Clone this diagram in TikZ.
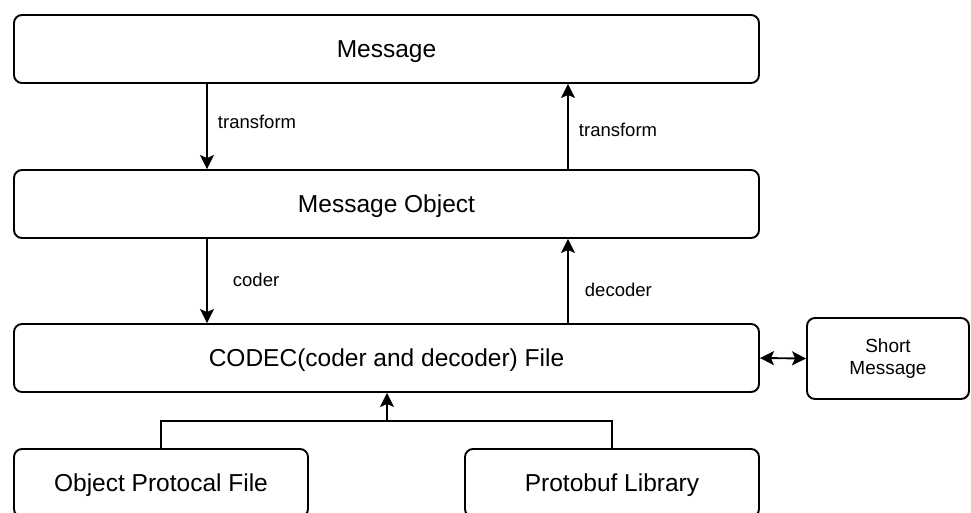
\documentclass[tikz,border=0pt]{standalone}
\usepackage{fontspec}
\setmainfont{Liberation Sans}
\usetikzlibrary{arrows.meta, positioning, calc}

\begin{document}
\begin{tikzpicture}[x=1pt, y=-1pt,
    block/.style={draw, line width=1.9pt, rounded corners=8pt, inner sep=0pt,
                  font=\fontsize{24.5}{28}\selectfont},
    wide/.style={block, minimum width=745pt, minimum height=68pt, text depth=0pt},
    lbl/.style={anchor=west, inner sep=0pt, font=\fontsize{18.5}{21}\selectfont},
    arr/.style={line width=1.9pt, -{Stealth[length=14pt, width=14pt, inset=3pt]}},
    dbl/.style={line width=1.9pt, {Stealth[length=14pt, width=14pt, inset=3pt]}-{Stealth[length=14pt, width=14pt, inset=3pt]}}]
    \clip (0,0) rectangle (971,512);

    % Main layers
    \node[wide] (msg) at (386.5, 49) {Message};
    \node[wide] (obj) at (386.5, 204) {Message Object};
    \node[wide] (codec) at (386.5, 358) {CODEC(coder and decoder) File};

    % Side box
    \node[block, minimum width=162pt, minimum height=81pt, align=center,
          font=\fontsize{19}{22}\selectfont] (short) at (888, 358.5) {Short\\Message};

    % Inputs (cut by the lower edge)
    \node[wide, minimum width=294pt] (proto) at (161, 483) {Object Protocal File};
    \node[wide, minimum width=294pt] (lib) at (612, 483) {Protobuf Library};

    % Columns of the arrows
    \coordinate (down) at (207, 0);
    \coordinate (up) at (568, 0);
    \coordinate (join) at (387, 421);

    \draw[arr] (msg.south -| down) -- node[lbl, pos=0.44, xshift=10pt] {transform} (obj.north -| down);
    \draw[arr] (obj.north -| up) -- node[lbl, pos=0.46, xshift=10pt] {transform} (msg.south -| up);
    \draw[arr] (obj.south -| down) -- node[lbl, pos=0.49, xshift=25pt] {coder} (codec.north -| down);
    \draw[arr] (codec.north -| up) -- node[lbl, pos=0.40, xshift=16pt] {decoder} (obj.south -| up);
    \draw[dbl] (codec.east) -- (short.west);

    % Merge of the two inputs
    \draw[line width=1.9pt] (proto.north) |- (join) -| (lib.north);
    \draw[arr] (join) -- (codec.south -| join);
\end{tikzpicture}
\end{document}
